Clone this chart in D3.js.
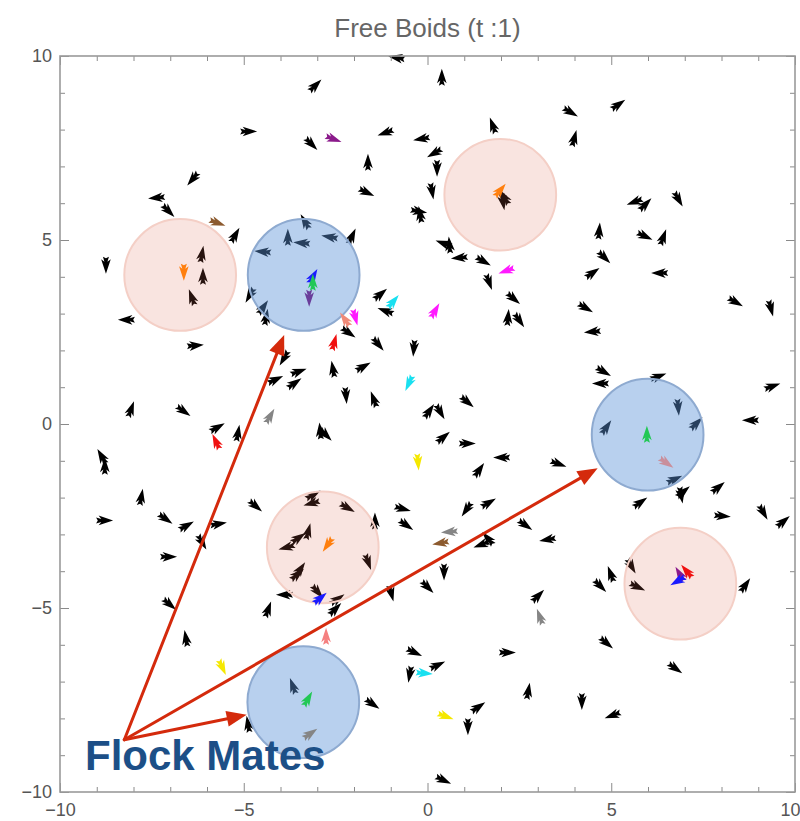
<!DOCTYPE html>
<html>
<head>
<meta charset="utf-8">
<script src="https://cdn.jsdelivr.net/npm/d3@7"></script>
<style>
  html, body { margin: 0; padding: 0; background: #fff; }
  svg { display: block; font-family: "Liberation Sans", Arial, Helvetica, sans-serif; }
</style>
</head>
<body>
<svg id="chart" width="800" height="821"></svg>
<script>
// ---- data -------------------------------------------------------------
const chartTitle = "Free Boids (t :1)";
const majorTicks = [-10, -5, 0, 5, 10];
const tickLabels = ["\u221210", "\u22125", "0", "5", "10"];
const minorTicks = [-9, -8, -7, -6, -4, -3, -2, -1, 1, 2, 3, 4, 6, 7, 8, 9];

// ordinary boids: position and heading (degrees, counter-clockwise from +x)
const boidX = [
  -4.88, -6.38, -7.36, -7.06, -5.24, -8.75, -6.14, -6.11, -6.41,
  -0.83, 0.39, -3.06, 1.78, 2.05, 2.10, -3.17, -1.13, -0.15, 0.20, -1.62, 0.26, -1.67, 0.12,
  -0.25, -0.20, -2.06, 0.60, 0.45, 0.88, 1.51, 1.67, 2.33, -1.29,
  -3.80, -3.33, -2.65, -3.41, -4.47, -4.48, -4.39, -4.83,
  3.88, 5.18, 3.99, 5.65, 5.92, 6.82, 4.67, 5.90, 6.41, 4.80, 4.48, 6.33, 8.37, 9.34,
  4.29, 4.50, 4.78, 4.72, 6.27, 6.82, 7.31, 4.86, 6.71, 3.55, 6.90, 6.95, 7.90, 5.78, 8.01,
  9.13, 9.67, 9.37, 8.80, 3.28,
  5.54, 4.99, 4.69, 5.70, 8.64, 4.86, 6.73, 4.20, 5.05,
  1.48, 1.65, 0.45, -0.01, -0.99, 3.00, -0.37, 0.26, -0.48, 2.16, 2.74, 1.37, 1.10, -1.51, 0.42, -1.62,
  -3.12, -3.14, -3.25, -3.52, -3.82, -3.47, -3.55, -3.00, -2.46, -2.52,
  -7.06, -7.03, -6.57, -4.34, -3.88, -3.66, -4.88, -6.14,
  -8.18, -6.33, -8.07, -6.65, -5.73, -5.16, -3.90, -4.15, -3.52, -3.63, -8.86, -8.78, -7.79,
  -8.80, -7.14, -6.57, -5.70, -4.69,
  -1.13, -2.16, -1.35, -0.37, -1.76, -2.57, -2.22, -1.46, 1.07, 0.04, 0.34, -2.92, -2.78,
  0.42, 1.07, 2.03, 1.40, -2.19, -1.43, -0.69, -0.59, 1.07, 1.65, 2.65, 2.19, 2.49
];
const boidY = [
  7.95, 6.67, 6.15, 5.80, 5.12, 4.33, 4.60, 4.00, 3.43,
  9.95, 9.41, 9.19, 8.10, 6.05, 6.15, 7.62, 7.92, 7.75, 7.37, 7.10, 6.96, 6.30, 6.34,
  5.78, 5.68, 5.09, 4.85, 4.90, 4.52, 4.43, 3.87, 3.42, 3.52,
  5.06, 5.49, 5.08, 4.92, 4.68, 3.16, 2.89, 3.51,
  8.48, 8.67, 7.75, 6.04, 5.96, 6.12, 5.23, 5.11, 5.06, 4.54, 4.10, 4.10, 3.32, 3.16,
  3.16, 2.51, 1.43, 1.10, 1.29, 0.47, 0.01, -0.10, -1.51, -1.08, -1.92, -1.85, -1.73, -2.14, -2.50,
  -2.39, -2.66, 1.02, 0.10, -3.14,
  -3.85, -4.09, -4.39, -4.42, -4.39, -5.94, -6.63, -7.53, -7.91,
  -3.27, -3.12, -4.01, -4.42, -4.59, -4.68, -6.20, -6.56, -6.79, -6.21, -7.27, -7.70, -8.21, -7.60, -9.67, -3.74,
  -1.93, -2.15, -2.93, -3.10, -3.35, -3.96, -4.10, -4.55, -4.77, -5.04,
  -3.61, -4.89, -5.84, -5.05, -4.64, -7.13, -8.17, -3.20,
  2.83, 2.13, 0.39, 0.36, -0.10, -0.26, 1.80, 1.20, 1.42, 1.10, -0.89, -1.16, -2.00,
  -2.62, -2.57, -2.77, -2.72, -2.22,
  3.07, 2.49, 2.18, 2.07, 1.55, 1.48, 0.79, 0.66, 0.61, 0.34, 0.34, -0.20, -0.28,
  -0.37, -0.53, -0.91, -1.26, -2.27, -2.65, -2.30, -2.74, -2.31, -2.15, -2.74, 2.88, 2.83
];
const boidHeading = [
  0, -130, 185, -45, 60, -90, 80, 90, 110,
  170, 90, 45, 110, -80, 120, -45, 200, 190, 210, 90, -90, -25, -80,
  -10, 100, 65, 95, 160, 185, -30, -70, -40, 40,
  90, 120, 170, 175, 175, 55, 80, -120,
  -30, 35, 75, 200, 45, -60, 85, -25, 70, -45, 35, 180, -30, -75,
  -30, 185, -30, 180, 20, -85, 45, 55, 25, -20, -80, 40, 40, 35, -5,
  -60, 40, 20, 180, 190,
  -60, 110, -45, -25, 55, -40, -35, -90, 200,
  200, 130, -90, -45, -75, 45, -25, 25, -100, 0, 80, 35, -90, -35, -25, -70,
  30, 195, 75, 35, 195, 55, 40, -50, 35, 45,
  0, -40, 100, 70, 180, 110, 100, -60,
  180, 5, 70, -35, 30, 80, -120, 25, 20, 35, 120, 90, 80,
  0, -35, 30, 10, -40,
  160, -35, -50, -95, 30, 100, -85, 110, -40, 55, -60, 95, -45,
  40, 0, 180, 55, -30, 90, -15, -35, -125, 30, -35, 85, -55
];

// tagged boids, drawn in their tag colour
const markedX = [-5.73, -6.63, 1.97, -2.57, 2.16, -0.94, -3.12, -3.12, -3.22, 0.20, -2.24, -1.97,
  -2.54, -0.50, -0.26, -4.29, -5.75, 5.97, 6.49, 0.61, 0.37, -2.71, -2.93, -2.76, 3.06, -0.10,
  0.48, -5.59, -3.26, -3.20, 6.87, 7.06, 6.82];
const markedY = [5.47, 4.14, 6.34, 7.75, 4.17, 3.32, 4.00, 3.84, 3.43, 3.07, 2.83, 2.91,
  2.21, 1.12, -1.02, 0.20, -0.49, -0.29, -1.05, -2.93, -3.23, -3.27, -4.74, -5.78, -5.25, -6.77,
  -7.94, -6.60, -7.48, -8.42, -4.09, -4.01, -4.26];
const markedHeading = [-20, -90, 50, -20, 200, 50, 60, 90, -90, 60, 125, -75,
  75, -115, -85, 60, 115, 90, -35, 185, 190, -125, 40, 90, 110, -5,
  -20, -65, 60, 35, 120, 130, 210];
const markedTag = ["brown", "orange", "orange", "purple", "magenta", "cyan", "blue", "green", "violet",
  "magenta", "salmon", "magenta", "red", "cyan", "yellow", "gray", "red", "green", "rose", "gray",
  "brown", "orange", "blue", "coral", "gray", "cyan", "yellow", "yellow", "green", "gray",
  "purple", "red", "blue"];

// neighbourhood discs
const zoneX = [-6.73, -3.37, 1.98, 5.99, -2.85, 6.88, -3.38];
const zoneY = [4.05, 4.05, 6.23, -0.29, -3.35, -4.34, -7.56];
const zoneKind = ["other", "mates", "other", "mates", "other", "other", "mates"];
const zoneRadius = 1.52;

// annotation: pointer arrows from the label to the flock-mate discs
const calloutText = "Flock Mates";
const calloutOrigin = [-8.25, -8.58];
const calloutTipX = [-3.90, 4.63, -4.92];
const calloutTipY = [2.42, -1.20, -7.90];
const calloutTextPos = [-9.32, -9.39];

// ---- drawing ----------------------------------------------------------
const svg = d3.select("#chart");
const x = d3.scaleLinear().domain([-10, 10]).range([60, 795]);
const y = d3.scaleLinear().domain([-10, 10]).range([792, 56]);

const tagColor = d3.scaleOrdinal()
  .domain(["brown", "orange", "purple", "magenta", "cyan", "blue", "green", "violet",
           "salmon", "red", "yellow", "gray", "rose", "coral"])
  .range(["#8c5a2e", "#ff7f0e", "#8b1a8b", "#ff1aff", "#19e0f0", "#1a1aff", "#22c855", "#6a3d9a",
          "#f08a78", "#f01010", "#f5e800", "#858585", "#c98f9c", "#f58080"]);

const zoneFill = d3.scaleOrdinal().domain(["mates", "other"]).range(["rgb(92,147,216)", "rgb(222,105,83)"]);
const zoneFillOpacity = d3.scaleOrdinal().domain(["mates", "other"]).range([0.435, 0.18]);
const zoneStroke = d3.scaleOrdinal().domain(["mates", "other"]).range(["#8eaad0", "#f4cfc6"]);

// dart-shaped boid glyph pointing along +x
const dart = "M9,0 L-5.5,-4.8 L-2.8,-1.5 L-8,-3 L-6.3,0 L-8,3 L-2.8,1.5 L-5.5,4.8 Z";

const plot = svg.append("g");

// ordinary boids
plot.append("g").selectAll("path")
  .data(d3.range(boidX.length))
  .join("path")
  .attr("d", dart)
  .attr("fill", "#000")
  .attr("transform", i => `translate(${x(boidX[i])},${y(boidY[i])}) rotate(${-boidHeading[i]})`);

// neighbourhood discs, translucent over the boids
plot.append("g").selectAll("circle")
  .data(d3.range(zoneX.length))
  .join("circle")
  .attr("cx", i => x(zoneX[i]))
  .attr("cy", i => y(zoneY[i]))
  .attr("r", x(zoneRadius) - x(0))
  .attr("fill", i => zoneFill(zoneKind[i]))
  .attr("fill-opacity", i => zoneFillOpacity(zoneKind[i]))
  .attr("stroke", i => zoneStroke(zoneKind[i]))
  .attr("stroke-width", 2);

// tagged boids
plot.append("g").selectAll("path")
  .data(d3.range(markedX.length))
  .join("path")
  .attr("d", dart)
  .attr("fill", i => tagColor(markedTag[i]))
  .attr("transform", i => `translate(${x(markedX[i])},${y(markedY[i])}) rotate(${-markedHeading[i]})`);

// frame and ticks on all four sides, ticks pointing inward
const axisColor = "#8a8a8a";
function styleAxis(g) {
  g.select(".domain").remove();
  g.selectAll(".tick line").attr("stroke", axisColor).attr("stroke-width", 1);
  g.selectAll(".tick text").attr("fill", "#555").attr("font-size", 18)
    .attr("font-family", "'Liberation Sans', Arial, Helvetica, sans-serif");
}
const fmt = (d, i) => tickLabels[i];

const bottomAxis = svg.append("g").attr("transform", "translate(0,792)")
  .call(d3.axisBottom(x).tickValues(majorTicks).tickSize(-9).tickPadding(11).tickFormat(fmt)).call(styleAxis);
// keep the last label inside the canvas edge
bottomAxis.selectAll(".tick text").filter(d => d === 10).attr("text-anchor", "end").attr("dx", 5);
svg.append("g").attr("transform", "translate(0,792)")
  .call(d3.axisBottom(x).tickValues(minorTicks).tickSize(-5).tickFormat("")).call(styleAxis);
svg.append("g").attr("transform", "translate(0,56)")
  .call(d3.axisTop(x).tickValues(majorTicks).tickSize(-9).tickFormat("")).call(styleAxis);
svg.append("g").attr("transform", "translate(0,56)")
  .call(d3.axisTop(x).tickValues(minorTicks).tickSize(-5).tickFormat("")).call(styleAxis);
svg.append("g").attr("transform", "translate(60,0)")
  .call(d3.axisLeft(y).tickValues(majorTicks).tickSize(-9).tickPadding(8).tickFormat(fmt)).call(styleAxis);
svg.append("g").attr("transform", "translate(60,0)")
  .call(d3.axisLeft(y).tickValues(minorTicks).tickSize(-5).tickFormat("")).call(styleAxis);
svg.append("g").attr("transform", "translate(795,0)")
  .call(d3.axisRight(y).tickValues(majorTicks).tickSize(-9).tickFormat("")).call(styleAxis);
svg.append("g").attr("transform", "translate(795,0)")
  .call(d3.axisRight(y).tickValues(minorTicks).tickSize(-5).tickFormat("")).call(styleAxis);

svg.append("rect")
  .attr("x", x(-10)).attr("y", y(10))
  .attr("width", x(10) - x(-10)).attr("height", y(-10) - y(10))
  .attr("fill", "none").attr("stroke", "#9a9a9a").attr("stroke-width", 1.6);

// title
svg.append("text")
  .attr("x", (x(-10) + x(10)) / 2).attr("y", 37)
  .attr("text-anchor", "middle")
  .attr("font-size", 26).attr("fill", "#666")
  .text(chartTitle);

// callout arrows
const red = "#d42a0c";
const callout = svg.append("g");
const ox = x(calloutOrigin[0]), oy = y(calloutOrigin[1]);
calloutTipX.forEach((tx, i) => {
  const px = x(tx), py = y(calloutTipY[i]);
  const ang = Math.atan2(py - oy, px - ox);
  const headLen = 20, headHalf = 8;
  const bx = px - headLen * Math.cos(ang), by = py - headLen * Math.sin(ang);
  callout.append("line")
    .attr("x1", ox).attr("y1", oy)
    .attr("x2", px - (headLen - 4) * Math.cos(ang)).attr("y2", py - (headLen - 4) * Math.sin(ang))
    .attr("stroke", red).attr("stroke-width", 3).attr("stroke-linecap", "round");
  const nx = -Math.sin(ang), ny = Math.cos(ang);
  callout.append("path")
    .attr("d", `M${px},${py} L${bx + nx * headHalf},${by + ny * headHalf} L${bx - nx * headHalf},${by - ny * headHalf} Z`)
    .attr("fill", red);
});

svg.append("text")
  .attr("x", x(calloutTextPos[0])).attr("y", y(calloutTextPos[1]))
  .attr("font-size", 42).attr("font-weight", "bold").attr("fill", "#1c4f87")
  .text(calloutText);
</script>
</body>
</html>
